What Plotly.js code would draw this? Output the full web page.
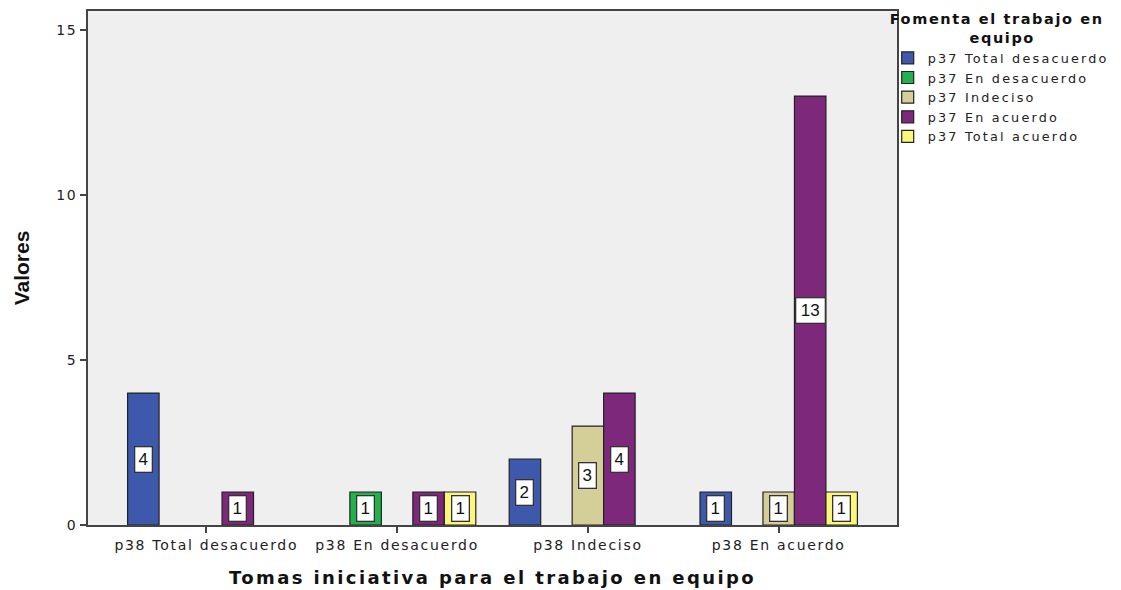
<!DOCTYPE html>
<html>
<head>
<meta charset="utf-8">
<script src="https://cdn.plot.ly/plotly-3.0.1.min.js"></script>
<style>
html,body{margin:0;padding:0;background:#fff;}
#chart{width:1121px;height:590px;}
#chart .legend, #chart .legend *{clip-path:none !important;}
#chart .legendtext{letter-spacing:2.2px;}
#chart .legendtitletext{letter-spacing:1.6px;}
#chart .xtick text{letter-spacing:1.7px;}
#chart .ytick text{letter-spacing:1.5px;}
#chart .g-xtitle text{letter-spacing:2.4px;}
</style>
</head>
<body>
<div id="chart"></div>
<script>
const categories = ["p38 Total desacuerdo", "p38 En desacuerdo", "p38 Indeciso", "p38 En acuerdo"];
const seriesNames = ["p37 Total desacuerdo", "p37 En desacuerdo", "p37 Indeciso", "p37 En acuerdo", "p37 Total acuerdo"];
const totalDesacuerdo = [4, null, 2, 1];
const enDesacuerdo = [null, 1, null, null];
const indeciso = [null, null, 3, 1];
const enAcuerdo = [1, 1, 4, 13];
const totalAcuerdo = [null, 1, null, 1];
const seriesValues = [totalDesacuerdo, enDesacuerdo, indeciso, enAcuerdo, totalAcuerdo];
const seriesColors = ["#3e58ac", "#22b14c", "#d4ce98", "#7e287c", "#fbf77a"];
const legendTitleLines = ["Fomenta el trabajo en", "equipo"];

const bargap = 0.175;
const nSeries = seriesValues.length;
const barW = (1 - bargap) / nSeries;
const tickFont = {family: "DejaVu Sans, Verdana, sans-serif", size: 14, color: "#222"};

const traces = seriesValues.map((vals, i) => ({
  type: "bar",
  name: seriesNames[i],
  x: categories,
  y: vals,
  marker: {color: seriesColors[i], line: {color: "#222", width: 1.2}},
  hoverinfo: "x+y+name"
}));

const annotations = [];
seriesValues.forEach((vals, i) => {
  vals.forEach((v, j) => {
    if (v === null || v === undefined) return;
    const txt = String(v);
    annotations.push({
      x: j + (i - (nSeries - 1) / 2) * barW,
      y: v / 2,
      xref: "x", yref: "y",
      text: txt,
      showarrow: false,
      font: {family: "Liberation Sans, Arial, sans-serif", size: 17, color: "#111"},
      bgcolor: "#ffffff",
      bordercolor: "#333",
      borderwidth: 1.3,
      borderpad: 3,
      width: 10 + 12 * (txt.length - 1),
      height: 18
    });
  });
});

const pad = "&nbsp;".repeat(12);
const layout = {
  width: 1121, height: 590,
  margin: {l: 88, r: 224, t: 11, b: 65, autoexpand: false},
  paper_bgcolor: "#ffffff",
  plot_bgcolor: "#efefef",
  barmode: "group",
  bargap: bargap,
  bargroupgap: 0,
  showlegend: true,
  legend: {
    x: 0.9885, xanchor: "left", y: 1.011, yanchor: "top",
    bgcolor: "rgba(0,0,0,0)",
    itemwidth: 30,
    font: {family: "DejaVu Sans, Verdana, sans-serif", size: 12.8, color: "#222"},
    title: {text: legendTitleLines[0] + "<br>" + pad + legendTitleLines[1], side: "top",
            font: {family: "DejaVu Sans, Verdana, sans-serif", size: 14.5, color: "#111", weight: "bold"}},
    tracegroupgap: 0,
    traceorder: "normal"
  },
  xaxis: {
    type: "category",
    range: [-0.62, 3.62],
    showline: true, linecolor: "#444", linewidth: 2, mirror: true,
    ticks: "outside", ticklen: 6, tickcolor: "#444", tickwidth: 2,
    showgrid: false, zeroline: false,
    tickfont: tickFont,
    title: {text: "Tomas iniciativa para el trabajo en equipo", standoff: 20,
            font: {family: "DejaVu Sans, Verdana, sans-serif", size: 18, color: "#111", weight: "bold"}}
  },
  yaxis: {
    range: [0, 15.58],
    tickvals: [0, 5, 10, 15],
    showline: true, linecolor: "#444", linewidth: 2, mirror: true,
    ticks: "outside", ticklen: 6, tickcolor: "#444", tickwidth: 2,
    showgrid: false, zeroline: false,
    tickfont: tickFont,
    title: {text: "Valores", standoff: 24,
            font: {family: "Liberation Sans Narrow, Arial Narrow, Liberation Sans, sans-serif", size: 21, color: "#111", weight: "bold"}}
  },
  annotations: annotations
};

Plotly.newPlot("chart", traces, layout, {displayModeBar: false, staticPlot: true});
</script>
</body>
</html>
